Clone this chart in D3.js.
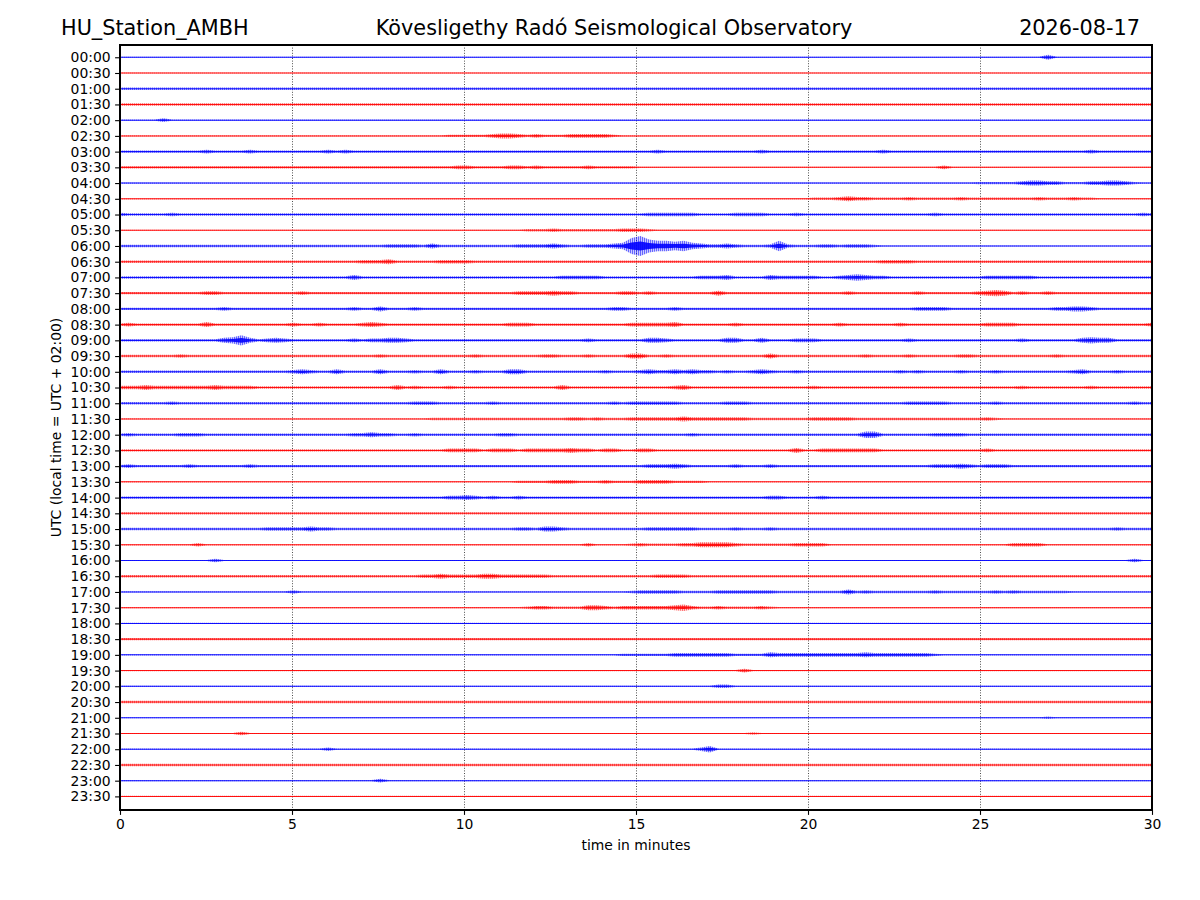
<!DOCTYPE html>
<html>
<head>
<meta charset="utf-8">
<script src="https://cdn.jsdelivr.net/npm/d3@7"></script>
<style>
  body { margin: 0; background: #fff; }
  svg { font-family: "DejaVu Sans", sans-serif; }
</style>
</head>
<body>
<svg id="heli" width="1200" height="900"></svg>
<script>
/* global d3 */

const station = "HU_Station_AMBH";
const observatory = "Kövesligethy Radó Seismological Observatory";
const day = "2026-08-17";
const yTitle = "UTC (local time = UTC + 02:00)";
const xTitle = "time in minutes";

const rowLabels = [
  "00:00", "00:30", "01:00", "01:30", "02:00", "02:30", "03:00", "03:30",
  "04:00", "04:30", "05:00", "05:30", "06:00", "06:30", "07:00", "07:30",
  "08:00", "08:30", "09:00", "09:30", "10:00", "10:30", "11:00", "11:30",
  "12:00", "12:30", "13:00", "13:30", "14:00", "14:30", "15:00", "15:30",
  "16:00", "16:30", "17:00", "17:30", "18:00", "18:30", "19:00", "19:30",
  "20:00", "20:30", "21:00", "21:30", "22:00", "22:30", "23:00", "23:30"
];
const minuteTicks = [0, 5, 10, 15, 20, 25, 30];
const gridMinutes = [5, 10, 15, 20, 25];

// trace envelope per row, one digit (0-9) every 15 s, 6 blocks of 5 minutes
const traces = [
  ["00000000000000000000", "00000000000000000000", "00000000000000000000", "00000000000000000000", "00000000000000000000", "00000003000000000000"],
  ["00000000000000000000", "00000000000000000000", "00000000000000000000", "00000000000000000000", "00000000000000000000", "00000000000000000000"],
  ["11111111111111111111", "11111111111111111111", "11111111111111111111", "11111111111111111111", "11111111111111111111", "11111111111111111111"],
  ["11111111111111111111", "11111111111111111111", "11111111111111111111", "11111111111111111111", "11111111111111111111", "11111111111111111111"],
  ["00000200000000000000", "00000000000000000000", "00000000000000000000", "00000000000000000000", "00000000000000000000", "00000000000000000000"],
  ["00000000000000000000", "00000000000000000011", "11123321211122222100", "00000000000000000000", "00000000000000000000", "00000000000000000000"],
  ["11111111112111121111", "11112121111111111111", "11111111111111111111", "11211111111111211111", "11111111211111111111", "11111111111121111111"],
  ["11111111111111111111", "11111111111111111112", "21111221211111211111", "00000000000000000000", "00000000000000020000", "00000000000000000000"],
  ["00000000000000000000", "00000000000000000000", "00000000000000000000", "00000000000000000000", "00000000000000000001", "11112332211122332100"],
  ["00000000000000000000", "00000000000000000000", "00000000000000000000", "00000000000000000000", "11123221111211111211", "11111121112110000000"],
  ["21111121111111111111", "11111111111111111111", "11111111111111111111", "12222221111222211121", "11111111111111211111", "11111111111111111121"],
  ["00000000000000000000", "00000000000000000000", "00000001112111111122", "21000000000000000000", "00000000000000000000", "00000000000000000000"],
  ["11111111111111111111", "11111111111222213111", "11111122223211222348", "97665643223211126211", "12212221000000000000", "00000000000000000000"],
  ["11111111111111111111", "11111111222311111222", "21111111111111111111", "11111111111111111111", "11111111222211111111", "11111111111111111111"],
  ["11111111111111111111", "11111113111111111111", "11111111111222221111", "11111112223111132222", "21123432211111111111", "22222211111111111111"],
  ["11111111112211111111", "12111111111111111111", "11111122223221111122", "12111111131111111111", "11112111111121111112", "34312112111111111111"],
  ["11111111111121111111", "11111112113111211111", "11111111111111111221", "11112111111111111111", "11111111111122221111", "11111111223321111111"],
  ["12111111113111111111", "21121111232111111111", "11111222111111111112", "22223111111211111111", "11121111112111111111", "22221111111111111112"],
  ["11111111111134631232", "11111112122332111111", "11111111111111211111", "13321111113311311122", "21111111111211111111", "11112111111343311111"],
  ["11111112111111111111", "11111111112111111111", "12111111122111211113", "31121111111111131111", "11111121111211111221", "11111111211111111111"],
  ["11111111111111111111", "23211311113111211311", "12111331111111112111", "23223232212112321121", "11111111112121111211", "12111111112311121111"],
  ["22232222222322221111", "11111111111131211121", "11111111111311111111", "11112311111111111111", "21111111111111111111", "11112111111121111111"],
  ["11111121111111111111", "11111111111111222111", "11121111111111111212", "22222111112221111111", "11111111111222221111", "12111111111111111211"],
  ["00000000000000000000", "00000000000000001111", "11111111111122121112", "22222322222221111111", "22222111111111111111", "21000000000000000000"],
  ["12111112221111111111", "11111112232211211111", "11112211111111111111", "11111121111111111111", "11111144111111222211", "11111111111111111111"],
  ["11111111111111111111", "11111111111111111122", "22122212222232212211", "22111111111111111131", "12222222111111111111", "21111111111111111111"],
  ["12111111211111121111", "11111111111111111111", "11111111111111111111", "12223211111211121111", "11111111111111222321", "22211111111111111111"],
  ["00000000000000000000", "00000000000000000000", "00000011112221112111", "22221111000000000000", "00000000000000000000", "00000000000000000000"],
  ["11111111111111111111", "11111111111111111122", "32121121111111111111", "11111111111111122111", "12111111111111111111", "11111111111111111111"],
  ["11111111111111111111", "11111111111111111111", "11111111111111111111", "11111111111111111111", "11111111111111111111", "11111111111111111111"],
  ["11111111111111111222", "22322111111111111111", "11111122133211111111", "12222221111211121111", "11111111111111111111", "11111111111111121111"],
  ["00000000020000000000", "00000000000000000000", "00000000000000200001", "21111223333211111122", "22000000000000000000", "00022220000000000000"],
  ["00000000000200000000", "00000000000000000000", "00000000000000000000", "00000000000000000000", "00000000000000000000", "00000000000000000200"],
  ["11111111111111111111", "11111111111111122322", "22332222221111111111", "11222211111111111111", "11111111111111111111", "11111111111111111111"],
  ["00000000000000000000", "20000000000000000000", "00000000000000000001", "22222111122222221111", "11113121111111211111", "12121111110000000000"],
  ["00000000000000000000", "00000000000000000000", "00000001221111332122", "22223421121111210000", "00000000000000000000", "00000000000000000000"],
  ["00000000000000000000", "00000000000000000000", "00000000000000000000", "00000000000000000000", "00000000000000000000", "00000000000000000000"],
  ["11111111111111111111", "11111111111111111111", "11111111111111111111", "11111111111111111111", "11111111111111111111", "11111111111111111111"],
  ["00000000000000000000", "00000000000000000000", "00000000000000000011", "11112222222111132222", "22222232222222100000", "00000000000000000000"],
  ["00000000000000000000", "00000000000000000000", "00000000000000000000", "00000000000020000000", "00000000000000000000", "00000000000000000000"],
  ["00000000000000000000", "00000000000000000000", "00000000000000000000", "00000000022000000000", "00000000000000000000", "00000000000000000000"],
  ["11111111111111111111", "11111111111111111111", "11111111111111111111", "11111111111111111111", "11111111111111111111", "11111111111111111111"],
  ["00000000000000000000", "00000000000000000000", "00000000000000000000", "00000000000000000000", "00000000000000000000", "00000001000000000000"],
  ["00000000000000200000", "00000000000000000000", "00000000000000000000", "00000000000001000000", "00000000000000000000", "00000000000000000000"],
  ["00000000000000000000", "00002000000000000000", "00000000000000000000", "00000002400000000000", "00000000000000000000", "00000000000000000000"],
  ["11111111111111111111", "11111111111111111111", "11111111111111111111", "11111111111111111111", "11111111111111111111", "11111111111111111111"],
  ["00000000000000000000", "00000000002000000000", "00000000000000000000", "00000000000000000000", "00000000000000000000", "00000000000000000000"],
  ["00000000000000000000", "00000000000000000000", "00000000000000000000", "00000000000000000000", "00000000000000000000", "00000000000000000000"]
];

// Define margins
const margin = { top: 45, right: 48, bottom: 90, left: 120 },
  width = 1200 - margin.left - margin.right,
  height = 900 - margin.top - margin.bottom;

// Define scales
const xScale = d3.scaleLinear().domain([0, 30]).range([0, width]);
const yScale = d3.scaleLinear().domain([-0.78, 47.865]).range([0, height]);
// envelope digit -> half height in px
const ampScale = d3.scaleLinear()
  .domain(d3.range(10))
  .range([0.6, 1.2, 1.8, 2.5, 3.2, 4.2, 5.2, 6.5, 8, 10]);
const palette = ["#0000ff", "#ff0000"];

const svg = d3.select("#heli");
const defs = svg.append("defs");

// hatched fill so the envelope reads like a dense wiggle trace
palette.forEach((c, i) => {
  const p = defs.append("pattern")
    .attr("id", "wig" + i)
    .attr("patternUnits", "userSpaceOnUse")
    .attr("width", 2)
    .attr("height", 3);
  p.append("rect").attr("width", 1).attr("height", 3).attr("fill", c).attr("fill-opacity", 0.6);
  p.append("rect").attr("x", 1).attr("width", 1).attr("height", 3).attr("fill", c).attr("fill-opacity", 0.2);
});

const g = svg.append("g")
  .attr("transform", "translate(" + margin.left + "," + margin.top + ")");

g.append("clipPath").attr("id", "plotclip")
  .append("rect").attr("width", width).attr("height", height);

// dotted minute grid
g.append("g").selectAll("line")
  .data(gridMinutes)
  .join("line")
  .attr("x1", (d) => Math.round(xScale(d)) + 0.5)
  .attr("x2", (d) => Math.round(xScale(d)) + 0.5)
  .attr("y1", 0)
  .attr("y2", height)
  .attr("stroke", "#000")
  .attr("stroke-width", 0.7)
  .attr("stroke-dasharray", "1,1.6");

// traces
const rows = traces.map((blocks, i) => ({
  row: i,
  levels: blocks.join("").split("").map(Number),
}));

const plot = g.append("g").attr("clip-path", "url(#plotclip)");

rows.forEach((r) => {
  const n = r.levels.length;
  const base = yScale(r.row);
  const pts = r.levels.map((v, k) => ({ m: (k * 30) / (n - 1), v: v }));

  const outer = d3.area()
    .x((d) => xScale(d.m))
    .y0((d) => base - ampScale(d.v))
    .y1((d) => base + ampScale(d.v));

  const inner = d3.area()
    .x((d) => xScale(d.m))
    .y0((d) => base - Math.max(0.5, ampScale(d.v) * 0.45))
    .y1((d) => base + Math.max(0.5, ampScale(d.v) * 0.45));

  const grp = plot.append("g").attr("class", "trace");
  grp.append("path")
    .attr("d", outer(pts))
    .attr("fill", "url(#wig" + (r.row % 2) + ")");
  grp.append("path")
    .attr("d", inner(pts))
    .attr("fill", palette[r.row % 2])
    .attr("fill-opacity", 0.9);
});

// frame
g.append("rect")
  .attr("width", width)
  .attr("height", height)
  .attr("fill", "none")
  .attr("stroke", "#000")
  .attr("stroke-width", 1.1)
  .attr("shape-rendering", "crispEdges");

// axes
const xAxis = d3.axisBottom(xScale)
  .tickValues(minuteTicks)
  .tickFormat(d3.format("d"))
  .tickSize(4.9)
  .tickPadding(4.5);

const yAxis = d3.axisLeft(yScale)
  .tickValues(d3.range(rowLabels.length))
  .tickFormat((i) => rowLabels[i])
  .tickSize(4.9)
  .tickPadding(4.5);

const styleAxis = (a) => {
  a.select(".domain").remove();
  a.attr("font-family", "DejaVu Sans, sans-serif").attr("font-size", 13.9);
  a.selectAll(".tick text").attr("fill", "#000");
  a.selectAll(".tick line").attr("stroke", "#000").attr("stroke-width", 1.1);
};

g.append("g")
  .attr("class", "x axis")
  .attr("transform", "translate(0," + height + ")")
  .call(xAxis)
  .call(styleAxis);

g.append("g")
  .attr("class", "y axis")
  .call(yAxis)
  .call(styleAxis);

// axis titles
g.append("text")
  .attr("x", width / 2)
  .attr("y", height + 40)
  .attr("text-anchor", "middle")
  .attr("font-size", 13.9)
  .text(xTitle);

g.append("text")
  .attr("transform", "translate(-59," + height / 2 + ") rotate(-90)")
  .attr("text-anchor", "middle")
  .attr("font-size", 13.9)
  .text(yTitle);

// header line
const head = svg.append("g").attr("font-size", 20.8).attr("fill", "#000");
head.append("text").attr("x", 61).attr("y", 35).text(station);
head.append("text").attr("x", 614).attr("y", 35).attr("text-anchor", "middle").text(observatory);
head.append("text").attr("x", 1140).attr("y", 35).attr("text-anchor", "end").text(day);
</script>
</body>
</html>
